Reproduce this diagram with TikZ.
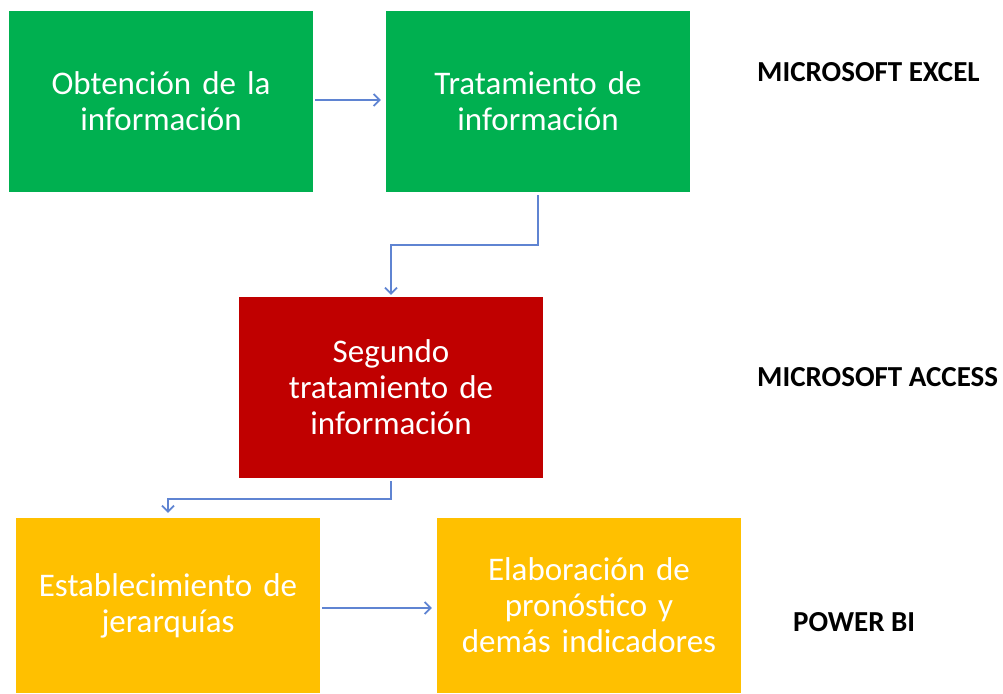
\documentclass[tikz,border=0pt]{standalone}
\usepackage{fontspec}
\setmainfont{Carlito}
\usetikzlibrary{arrows.meta}
\definecolor{xgreen}{HTML}{00B050}
\definecolor{xred}{HTML}{C00000}
\definecolor{xyellow}{HTML}{FFC000}
\definecolor{xarrow}{HTML}{5F84D2}
\begin{document}
\begin{tikzpicture}[x=1pt,y=-1pt,
  box/.style={minimum width=304pt,text width=290pt,align=center,inner sep=0pt,text=white,
    font=\fontsize{33}{36}\selectfont},
  bigbox/.style={box,minimum height=181pt},
  lowbox/.style={box,minimum height=175pt},
  tool/.style={anchor=west,inner sep=0pt,font=\fontsize{29}{34}\selectfont\bfseries},
  arr/.style={draw=xarrow,line width=1.8pt,-{Straight Barb[length=6pt,width=12pt,line width=1.8pt]}}]
\useasboundingbox (0,0) rectangle (1003,693);
\node[bigbox,fill=xgreen] (b1) at (161,101.5) {Obtención de la\\información};
\node[bigbox,fill=xgreen] (b2) at (538,101.5) {Tratamiento de\\información};
\node[bigbox,fill=xred] (b3) at (391,387.5) {Segundo\\tratamiento de\\información};
\node[lowbox,fill=xyellow] (b4) at (168,605.5) {Establecimiento de\\jerarquías};
\node[lowbox,fill=xyellow] (b5) at (589,605.5) {Elaboración de\\pronóstico y\\demás indicadores};
\node[tool] (t1) at (757,72) {MICROSOFT EXCEL};
\node[tool] (t2) at (757,377) {MICROSOFT ACCESS};
\node[tool] (t3) at (793,622) {POWER BI};
\draw[arr] ([shift={(2,-1.5)}]b1.east) -- ([shift={(-5,-1.5)}]b2.west);
\draw[arr] ([shift={(0,3)}]b2.south) |- ([shift={(0,-52)}]b3.north) -- ([shift={(0,-2)}]b3.north);
\draw[arr] ([shift={(0,3)}]b3.south) |- ([shift={(0,-19)}]b4.north) -- ([shift={(0,-5)}]b4.north);
\draw[arr] ([shift={(2,2.5)}]b4.east) -- ([shift={(-5,2.5)}]b5.west);
\end{tikzpicture}
\end{document}
